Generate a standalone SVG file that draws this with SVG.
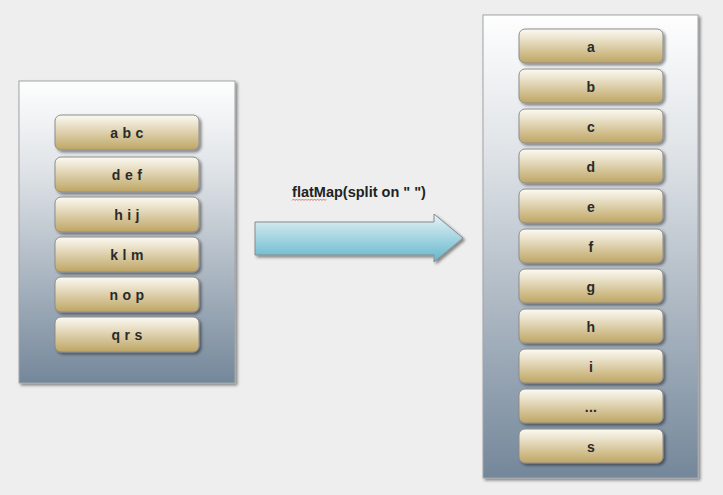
<svg xmlns="http://www.w3.org/2000/svg" width="723" height="495" viewBox="0 0 723 495">
<defs>
<linearGradient id="panel" x1="0" y1="0" x2="0" y2="1">
<stop offset="0" stop-color="#fefefe"/>
<stop offset="0.3" stop-color="#dfe3e7"/>
<stop offset="1" stop-color="#74879a"/>
</linearGradient>
<linearGradient id="box" x1="0" y1="0" x2="0" y2="1">
<stop offset="0" stop-color="#fcfaf3"/>
<stop offset="1" stop-color="#bea564"/>
</linearGradient>
<linearGradient id="arr" x1="0" y1="0" x2="0" y2="1">
<stop offset="0" stop-color="#e6f3f6"/>
<stop offset="1" stop-color="#62b6cc"/>
</linearGradient>
<filter id="sh" x="-10%" y="-10%" width="130%" height="140%">
<feGaussianBlur in="SourceAlpha" stdDeviation="1.5"/>
<feOffset dx="2" dy="2" result="b"/>
<feComponentTransfer><feFuncA type="linear" slope="0.45"/></feComponentTransfer>
<feMerge><feMergeNode/><feMergeNode in="SourceGraphic"/></feMerge>
</filter>
<style>
.panel{fill:url(#panel);stroke:#a0a4a8;stroke-width:1}
.box{fill:url(#box);stroke:#8c8c8c;stroke-width:1}
.t{font-family:"Liberation Sans",Arial,sans-serif;font-weight:bold;font-size:14px;letter-spacing:0.3px;fill:#2a2a2a;text-anchor:middle}
.lbl{font-family:"Liberation Sans",Arial,sans-serif;font-weight:bold;font-size:14.5px;fill:#222;text-anchor:middle}
</style>
</defs>
<rect width="723" height="495" fill="#eeeeee"/>
<g id="left-panel">
<rect class="panel" x="19" y="81" width="216" height="302" filter="url(#sh)"/>
</g>
<g id="right-panel">
<rect class="panel" x="483" y="15" width="215" height="463" filter="url(#sh)"/>
</g>
<g id="l1"><rect class="box" x="55" y="115" width="144" height="35" rx="6" filter="url(#sh)"/><text class="t" x="127" y="138">a b c</text></g>
<g id="l2"><rect class="box" x="55" y="157" width="144" height="35" rx="6" filter="url(#sh)"/><text class="t" x="127" y="180">d e f</text></g>
<g id="l3"><rect class="box" x="55" y="197" width="144" height="35" rx="6" filter="url(#sh)"/><text class="t" x="127" y="220">h i j</text></g>
<g id="l4"><rect class="box" x="55" y="237" width="144" height="35" rx="6" filter="url(#sh)"/><text class="t" x="127" y="260">k l m</text></g>
<g id="l5"><rect class="box" x="55" y="277" width="144" height="35" rx="6" filter="url(#sh)"/><text class="t" x="127" y="300">n o p</text></g>
<g id="l6"><rect class="box" x="55" y="317" width="144" height="35" rx="6" filter="url(#sh)"/><text class="t" x="127" y="340">q r s</text></g>
<g id="r1"><rect class="box" x="519" y="29" width="144" height="34" rx="6" filter="url(#sh)"/><text class="t" x="591" y="52">a</text></g>
<g id="r2"><rect class="box" x="519" y="69" width="144" height="34" rx="6" filter="url(#sh)"/><text class="t" x="591" y="92">b</text></g>
<g id="r3"><rect class="box" x="519" y="109" width="144" height="34" rx="6" filter="url(#sh)"/><text class="t" x="591" y="132">c</text></g>
<g id="r4"><rect class="box" x="519" y="149" width="144" height="34" rx="6" filter="url(#sh)"/><text class="t" x="591" y="172">d</text></g>
<g id="r5"><rect class="box" x="519" y="189" width="144" height="34" rx="6" filter="url(#sh)"/><text class="t" x="591" y="212">e</text></g>
<g id="r6"><rect class="box" x="519" y="229" width="144" height="34" rx="6" filter="url(#sh)"/><text class="t" x="591" y="252">f</text></g>
<g id="r7"><rect class="box" x="519" y="269" width="144" height="34" rx="6" filter="url(#sh)"/><text class="t" x="591" y="292">g</text></g>
<g id="r8"><rect class="box" x="519" y="309" width="144" height="34" rx="6" filter="url(#sh)"/><text class="t" x="591" y="332">h</text></g>
<g id="r9"><rect class="box" x="519" y="349" width="144" height="34" rx="6" filter="url(#sh)"/><text class="t" x="591" y="372">i</text></g>
<g id="r10"><rect class="box" x="519" y="389" width="144" height="34" rx="6" filter="url(#sh)"/><text class="t" x="591" y="412">...</text></g>
<g id="r11"><rect class="box" x="519" y="429" width="144" height="34" rx="6" filter="url(#sh)"/><text class="t" x="591" y="452">s</text></g>
<g id="connectors">
<path d="M255,222 H434 V214 L463,238 L434,262 V255 H255 Z" fill="url(#arr)" stroke="#8a8a8a" stroke-width="1" filter="url(#sh)"/>
<text class="lbl" x="359" y="197">flatMap(split on " ")</text>
<path d="M292,200.5 l1.5,-1.5 l1.5,1.5 l1.5,-1.5 l1.5,1.5 l1.5,-1.5 l1.5,1.5 l1.5,-1.5 l1.5,1.5 l1.5,-1.5 l1.5,1.5 l1.5,-1.5 l1.5,1.5 l1.5,-1.5 l1.5,1.5 l1.5,-1.5 l1.5,1.5 l1.5,-1.5 l1.5,1.5 l1.5,-1.5 l1.5,1.5 l1.5,-1.5 l1.5,1.5 l1.5,-1.5" fill="none" stroke="#e04040" stroke-width="0.7"/>
</g>
</svg>
